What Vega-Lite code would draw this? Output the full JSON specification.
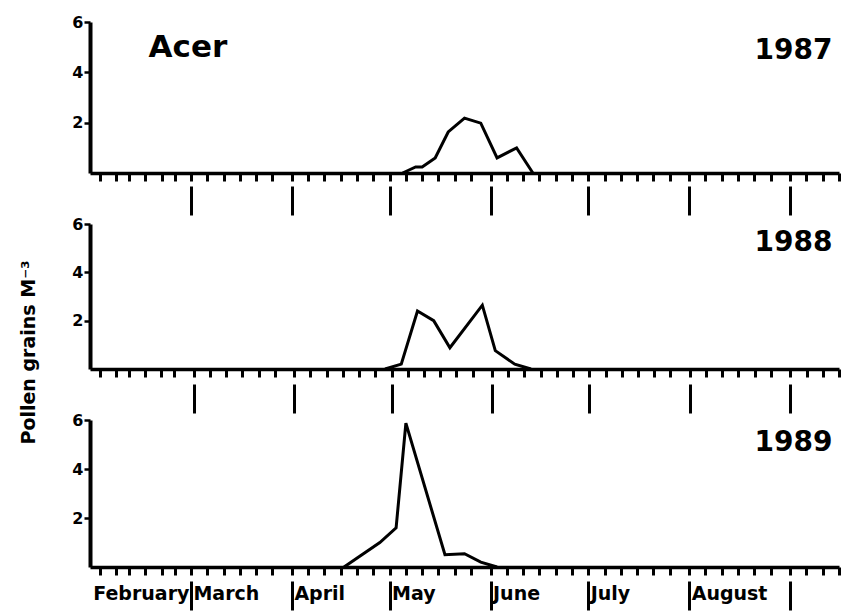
{
  "$schema": "https://vega.github.io/schema/vega-lite/v6.json",
  "padding": {"left": 18, "top": 14, "right": 6, "bottom": 2},
  "bounds": "flush",
  "spacing": 51,
  "config": {
    "font": "DejaVu Sans",
    "view": {"stroke": null},
    "axis": {"domainColor": "black", "tickColor": "black", "labelColor": "black", "titleColor": "black", "grid": false, "labelFont": "DejaVu Sans", "titleFont": "DejaVu Sans"},
    "text": {"font": "DejaVu Sans", "fontWeight": "bold", "color": "black"}
  },
  "datasets": {
    "pollen": [
      {"year": 1987, "date": "1987-05-05", "pollen": 0},
      {"year": 1987, "date": "1987-05-09", "pollen": 0.24},
      {"year": 1987, "date": "1987-05-11", "pollen": 0.24},
      {"year": 1987, "date": "1987-05-15", "pollen": 0.6},
      {"year": 1987, "date": "1987-05-19", "pollen": 1.63},
      {"year": 1987, "date": "1987-05-24", "pollen": 2.18},
      {"year": 1987, "date": "1987-05-29", "pollen": 1.98},
      {"year": 1987, "date": "1987-06-03", "pollen": 0.6},
      {"year": 1987, "date": "1987-06-09", "pollen": 1.0},
      {"year": 1987, "date": "1987-06-14", "pollen": 0},
      {"year": 1988, "date": "1988-04-29", "pollen": 0},
      {"year": 1988, "date": "1988-05-04", "pollen": 0.2},
      {"year": 1988, "date": "1988-05-09", "pollen": 2.4},
      {"year": 1988, "date": "1988-05-14", "pollen": 2.0},
      {"year": 1988, "date": "1988-05-19", "pollen": 0.88},
      {"year": 1988, "date": "1988-05-29", "pollen": 2.64},
      {"year": 1988, "date": "1988-06-02", "pollen": 0.76},
      {"year": 1988, "date": "1988-06-08", "pollen": 0.2},
      {"year": 1988, "date": "1988-06-13", "pollen": 0},
      {"year": 1989, "date": "1989-04-17", "pollen": 0},
      {"year": 1989, "date": "1989-04-28", "pollen": 1.0},
      {"year": 1989, "date": "1989-05-03", "pollen": 1.6},
      {"year": 1989, "date": "1989-05-06", "pollen": 5.87},
      {"year": 1989, "date": "1989-05-18", "pollen": 0.5},
      {"year": 1989, "date": "1989-05-24", "pollen": 0.54},
      {"year": 1989, "date": "1989-05-29", "pollen": 0.2},
      {"year": 1989, "date": "1989-06-03", "pollen": 0}
    ]
  },
  "vconcat": [
    {
      "width": 749, "height": 151,
      "resolve": {"axis": {"x": "independent", "y": "independent"}},
      "layer": [
        {
          "data": {"name": "pollen"},
          "transform": [{"filter": "datum.year == 1987"}],
          "mark": {"type": "line", "color": "black", "strokeWidth": 3},
          "encoding": {
            "x": {"field": "date", "type": "temporal",
              "scale": {"domain": [{"year": 1987, "month": 1, "date": 29}, {"year": 1987, "month": 9, "date": 16}]},
              "axis": {"orient": "bottom", "title": null, "labels": false, "domainWidth": 3.5, "tickSize": 8, "tickWidth": 3,
                "values": [
                  {"year":1987,"month":2,"date":1},{"year":1987,"month":2,"date":6},{"year":1987,"month":2,"date":10},{"year":1987,"month":2,"date":15},{"year":1987,"month":2,"date":20},{"year":1987,"month":2,"date":24},
                  {"year":1987,"month":3,"date":1},{"year":1987,"month":3,"date":6},{"year":1987,"month":3,"date":11},{"year":1987,"month":3,"date":16},{"year":1987,"month":3,"date":21},{"year":1987,"month":3,"date":26},
                  {"year":1987,"month":4,"date":1},{"year":1987,"month":4,"date":6},{"year":1987,"month":4,"date":11},{"year":1987,"month":4,"date":16},{"year":1987,"month":4,"date":21},{"year":1987,"month":4,"date":26},
                  {"year":1987,"month":5,"date":1},{"year":1987,"month":5,"date":6},{"year":1987,"month":5,"date":11},{"year":1987,"month":5,"date":16},{"year":1987,"month":5,"date":21},{"year":1987,"month":5,"date":26},
                  {"year":1987,"month":6,"date":1},{"year":1987,"month":6,"date":6},{"year":1987,"month":6,"date":11},{"year":1987,"month":6,"date":16},{"year":1987,"month":6,"date":21},{"year":1987,"month":6,"date":26},
                  {"year":1987,"month":7,"date":1},{"year":1987,"month":7,"date":6},{"year":1987,"month":7,"date":11},{"year":1987,"month":7,"date":16},{"year":1987,"month":7,"date":21},{"year":1987,"month":7,"date":26},
                  {"year":1987,"month":8,"date":1},{"year":1987,"month":8,"date":6},{"year":1987,"month":8,"date":11},{"year":1987,"month":8,"date":16},{"year":1987,"month":8,"date":21},{"year":1987,"month":8,"date":26},
                  {"year":1987,"month":9,"date":1},{"year":1987,"month":9,"date":6},{"year":1987,"month":9,"date":11},{"year":1987,"month":9,"date":16}
                ]}},
            "y": {"field": "pollen", "type": "quantitative", "scale": {"domain": [0, 6], "nice": false},
              "axis": {"orient": "left", "title": null, "values": [2, 4, 6], "tickSize": 6, "tickWidth": 2.5, "domainWidth": 4, "labelFontSize": 16, "labelFontWeight": "bold", "labelPadding": 1}}
          }
        },
        {
          "data": {"values": [{"label": "1987"}]},
          "mark": {"type": "text", "align": "right", "baseline": "middle", "fontSize": 28, "fontWeight": "bold"},
          "encoding": {
            "x": {"datum": {"year": 1987, "month": 9, "date": 14}, "type": "temporal",
              "scale": {"domain": [{"year": 1987, "month": 1, "date": 29}, {"year": 1987, "month": 9, "date": 16}]},
              "axis": {"orient": "bottom", "title": null, "labels": false, "domain": false, "offset": 13, "tickSize": 29, "tickWidth": 3,
                "values": [{"year":1987,"month":3,"date":1},{"year":1987,"month":4,"date":1},{"year":1987,"month":5,"date":1},{"year":1987,"month":6,"date":1},{"year":1987,"month":7,"date":1},{"year":1987,"month":8,"date":1},{"year":1987,"month":9,"date":1}]}},
            "y": {"datum": 4.83, "type": "quantitative", "scale": {"domain": [0, 6], "nice": false}, "axis": null},
            "text": {"field": "label"}
          }
        },
        {
          "data": {"values": [{"label": "Acer"}]},
          "mark": {"type": "text", "align": "left", "baseline": "middle", "fontSize": 31, "fontWeight": "bold"},
          "encoding": {
            "x": {"datum": {"year": 1987, "month": 2, "date": 16}, "type": "temporal",
              "scale": {"domain": [{"year": 1987, "month": 1, "date": 29}, {"year": 1987, "month": 9, "date": 16}]}, "axis": null},
            "y": {"datum": 4.97, "type": "quantitative", "scale": {"domain": [0, 6], "nice": false}, "axis": null},
            "text": {"field": "label"}
          }
        }
      ]
    },
    {
      "width": 749, "height": 145,
      "resolve": {"axis": {"x": "independent", "y": "independent"}},
      "layer": [
        {
          "data": {"name": "pollen"},
          "transform": [{"filter": "datum.year == 1988"}],
          "mark": {"type": "line", "color": "black", "strokeWidth": 3},
          "encoding": {
            "x": {"field": "date", "type": "temporal",
              "scale": {"domain": [{"year": 1988, "month": 1, "date": 29}, {"year": 1988, "month": 9, "date": 16}]},
              "axis": {"orient": "bottom", "title": null, "labels": false, "domainWidth": 3.5, "tickSize": 8, "tickWidth": 3,
                "values": [
                  {"year":1988,"month":2,"date":1},{"year":1988,"month":2,"date":6},{"year":1988,"month":2,"date":10},{"year":1988,"month":2,"date":15},{"year":1988,"month":2,"date":20},{"year":1988,"month":2,"date":24},
                  {"year":1988,"month":3,"date":1},{"year":1988,"month":3,"date":6},{"year":1988,"month":3,"date":11},{"year":1988,"month":3,"date":16},{"year":1988,"month":3,"date":21},{"year":1988,"month":3,"date":26},
                  {"year":1988,"month":4,"date":1},{"year":1988,"month":4,"date":6},{"year":1988,"month":4,"date":11},{"year":1988,"month":4,"date":16},{"year":1988,"month":4,"date":21},{"year":1988,"month":4,"date":26},
                  {"year":1988,"month":5,"date":1},{"year":1988,"month":5,"date":6},{"year":1988,"month":5,"date":11},{"year":1988,"month":5,"date":16},{"year":1988,"month":5,"date":21},{"year":1988,"month":5,"date":26},
                  {"year":1988,"month":6,"date":1},{"year":1988,"month":6,"date":6},{"year":1988,"month":6,"date":11},{"year":1988,"month":6,"date":16},{"year":1988,"month":6,"date":21},{"year":1988,"month":6,"date":26},
                  {"year":1988,"month":7,"date":1},{"year":1988,"month":7,"date":6},{"year":1988,"month":7,"date":11},{"year":1988,"month":7,"date":16},{"year":1988,"month":7,"date":21},{"year":1988,"month":7,"date":26},
                  {"year":1988,"month":8,"date":1},{"year":1988,"month":8,"date":6},{"year":1988,"month":8,"date":11},{"year":1988,"month":8,"date":16},{"year":1988,"month":8,"date":21},{"year":1988,"month":8,"date":26},
                  {"year":1988,"month":9,"date":1},{"year":1988,"month":9,"date":6},{"year":1988,"month":9,"date":11},{"year":1988,"month":9,"date":16}
                ]}},
            "y": {"field": "pollen", "type": "quantitative", "scale": {"domain": [0, 6], "nice": false},
              "axis": {"orient": "left", "title": "Pollen   grains   M⁻³", "titleFontSize": 19, "titleFontWeight": "bold", "titleX": -62, "titleY": 128, "titleBaseline": "middle",
                "values": [2, 4, 6], "tickSize": 6, "tickWidth": 2.5, "domainWidth": 4, "labelFontSize": 16, "labelFontWeight": "bold", "labelPadding": 1}}
          }
        },
        {
          "data": {"values": [{"label": "1988"}]},
          "mark": {"type": "text", "align": "right", "baseline": "middle", "fontSize": 28, "fontWeight": "bold"},
          "encoding": {
            "x": {"datum": {"year": 1988, "month": 9, "date": 14}, "type": "temporal",
              "scale": {"domain": [{"year": 1988, "month": 1, "date": 29}, {"year": 1988, "month": 9, "date": 16}]},
              "axis": {"orient": "bottom", "title": null, "labels": false, "domain": false, "offset": 15, "tickSize": 29, "tickWidth": 3,
                "values": [{"year":1988,"month":3,"date":1},{"year":1988,"month":4,"date":1},{"year":1988,"month":5,"date":1},{"year":1988,"month":6,"date":1},{"year":1988,"month":7,"date":1},{"year":1988,"month":8,"date":1},{"year":1988,"month":9,"date":1}]}},
            "y": {"datum": 5.21, "type": "quantitative", "scale": {"domain": [0, 6], "nice": false}, "axis": null},
            "text": {"field": "label"}
          }
        }
      ]
    },
    {
      "width": 749, "height": 147,
      "resolve": {"axis": {"x": "independent", "y": "independent"}},
      "layer": [
        {
          "data": {"name": "pollen"},
          "transform": [{"filter": "datum.year == 1989"}],
          "mark": {"type": "line", "color": "black", "strokeWidth": 3},
          "encoding": {
            "x": {"field": "date", "type": "temporal",
              "scale": {"domain": [{"year": 1989, "month": 1, "date": 29}, {"year": 1989, "month": 9, "date": 16}]},
              "axis": {"orient": "bottom", "title": null, "labels": false, "domainWidth": 3.5, "tickSize": 8, "tickWidth": 3,
                "values": [
                  {"year":1989,"month":2,"date":1},{"year":1989,"month":2,"date":6},{"year":1989,"month":2,"date":10},{"year":1989,"month":2,"date":15},{"year":1989,"month":2,"date":20},{"year":1989,"month":2,"date":24},
                  {"year":1989,"month":3,"date":1},{"year":1989,"month":3,"date":6},{"year":1989,"month":3,"date":11},{"year":1989,"month":3,"date":16},{"year":1989,"month":3,"date":21},{"year":1989,"month":3,"date":26},
                  {"year":1989,"month":4,"date":1},{"year":1989,"month":4,"date":6},{"year":1989,"month":4,"date":11},{"year":1989,"month":4,"date":16},{"year":1989,"month":4,"date":21},{"year":1989,"month":4,"date":26},
                  {"year":1989,"month":5,"date":1},{"year":1989,"month":5,"date":6},{"year":1989,"month":5,"date":11},{"year":1989,"month":5,"date":16},{"year":1989,"month":5,"date":21},{"year":1989,"month":5,"date":26},
                  {"year":1989,"month":6,"date":1},{"year":1989,"month":6,"date":6},{"year":1989,"month":6,"date":11},{"year":1989,"month":6,"date":16},{"year":1989,"month":6,"date":21},{"year":1989,"month":6,"date":26},
                  {"year":1989,"month":7,"date":1},{"year":1989,"month":7,"date":6},{"year":1989,"month":7,"date":11},{"year":1989,"month":7,"date":16},{"year":1989,"month":7,"date":21},{"year":1989,"month":7,"date":26},
                  {"year":1989,"month":8,"date":1},{"year":1989,"month":8,"date":6},{"year":1989,"month":8,"date":11},{"year":1989,"month":8,"date":16},{"year":1989,"month":8,"date":21},{"year":1989,"month":8,"date":26},
                  {"year":1989,"month":9,"date":1},{"year":1989,"month":9,"date":6},{"year":1989,"month":9,"date":11},{"year":1989,"month":9,"date":16}
                ]}},
            "y": {"field": "pollen", "type": "quantitative", "scale": {"domain": [0, 6], "nice": false},
              "axis": {"orient": "left", "title": null, "values": [2, 4, 6], "tickSize": 6, "tickWidth": 2.5, "domainWidth": 4, "labelFontSize": 16, "labelFontWeight": "bold", "labelPadding": 1}}
          }
        },
        {
          "data": {"values": [{"label": "1989"}]},
          "mark": {"type": "text", "align": "right", "baseline": "middle", "fontSize": 28, "fontWeight": "bold"},
          "encoding": {
            "x": {"datum": {"year": 1989, "month": 9, "date": 14}, "type": "temporal",
              "scale": {"domain": [{"year": 1989, "month": 1, "date": 29}, {"year": 1989, "month": 9, "date": 16}]},
              "axis": {"orient": "bottom", "title": null, "domain": false, "offset": 14, "tickSize": 29, "tickWidth": 3,
                "tickOpacity": {"condition": {"test": "month(datum.value) == 1", "value": 0}, "value": 1},
                "labels": true, "labelExpr": "month(datum.value) == 8 ? '' : timeFormat(datum.value, '%B')",
                "labelAlign": "left", "labelBaseline": "middle",
                "labelOffset": {"condition": {"test": "month(datum.value) == 1", "value": -7}, "value": 2},
                "labelPadding": -17,
                "labelFontSize": 19, "labelFontWeight": "bold", "labelOverlap": false, "labelBound": false, "labelFlush": false,
                "values": [{"year":1989,"month":2,"date":1},{"year":1989,"month":3,"date":1},{"year":1989,"month":4,"date":1},{"year":1989,"month":5,"date":1},{"year":1989,"month":6,"date":1},{"year":1989,"month":7,"date":1},{"year":1989,"month":8,"date":1},{"year":1989,"month":9,"date":1}]}},
            "y": {"datum": 5.06, "type": "quantitative", "scale": {"domain": [0, 6], "nice": false}, "axis": null},
            "text": {"field": "label"}
          }
        }
      ]
    }
  ]
}
